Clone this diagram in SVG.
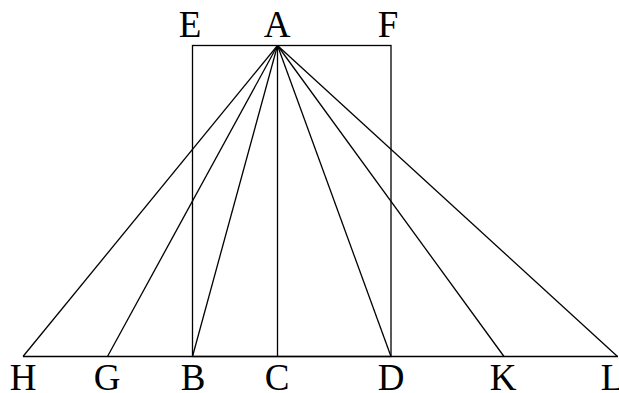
<svg xmlns="http://www.w3.org/2000/svg" width="619" height="393" viewBox="0 0 619 393">
<style>
.ln{stroke:#000;stroke-width:1.3;fill:none}
.lb{font-family:"Liberation Serif","DejaVu Serif",serif;font-size:37px;fill:#000;text-anchor:middle}
</style>
<rect width="619" height="393" fill="#fff"/>
<g id="connectors">
<rect class="ln" x="192.5" y="45.5" width="198.5" height="311"/>
<line class="ln" x1="23" y1="356.5" x2="618" y2="356.5"/>
<line class="ln" x1="277.5" y1="45.5" x2="23" y2="356.5"/>
<line class="ln" x1="277.5" y1="45.5" x2="107.5" y2="356.5"/>
<line class="ln" x1="277.5" y1="45.5" x2="192.5" y2="356.5"/>
<line class="ln" x1="277.5" y1="45.5" x2="277.5" y2="356.5"/>
<line class="ln" x1="277.5" y1="45.5" x2="391" y2="356.5"/>
<line class="ln" x1="277.5" y1="45.5" x2="504" y2="356.5"/>
<line class="ln" x1="277.5" y1="45.5" x2="617.5" y2="356.5"/>
</g>
<g id="E"><text class="lb" x="190" y="37">E</text></g>
<g id="A"><text class="lb" x="277" y="37">A</text></g>
<g id="F"><text class="lb" x="388" y="37">F</text></g>
<g id="H"><text class="lb" x="23" y="390">H</text></g>
<g id="G"><text class="lb" x="107" y="390">G</text></g>
<g id="B"><text class="lb" x="193" y="390">B</text></g>
<g id="C"><text class="lb" x="277" y="390">C</text></g>
<g id="D"><text class="lb" x="391" y="390">D</text></g>
<g id="K"><text class="lb" x="503" y="390">K</text></g>
<g id="L"><text class="lb" x="612" y="390">L</text></g>
</svg>
